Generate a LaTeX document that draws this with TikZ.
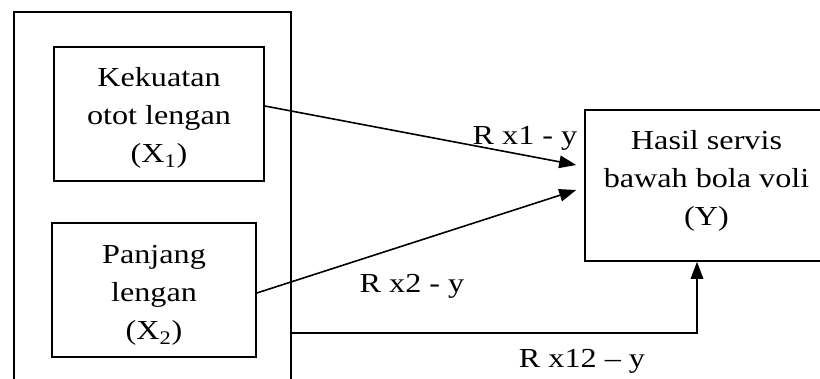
\documentclass[tikz,border=0pt]{standalone}
\usepackage{fontspec}
\setmainfont{Liberation Serif}
\usetikzlibrary{arrows.meta,calc}
\newcommand\sx[1]{\scalebox{1.17}[1]{#1}}
\begin{document}
\begin{tikzpicture}[x=1pt,y=-1pt,
  box/.style={draw,line width=1.6pt,inner sep=0pt},
  txt/.style={inner sep=0pt,anchor=base,font=\fontsize{27.5}{38}\selectfont},
  arr/.style={line width=1.6pt,-{Triangle[length=17pt,width=12.5pt]}}]
\useasboundingbox (0,0) rectangle (820,379);
% outer frame
\node[box,minimum width=277pt,minimum height=409pt,anchor=north west] (outer) at (13,11) {};
% boxes
\node[box,minimum width=210pt,minimum height=134pt] (x1) at (159,114) {};
\node[box,minimum width=204pt,minimum height=134pt] (x2) at (154,290) {};
\node[box,minimum width=243pt,minimum height=151pt] (yb) at (706.5,185.5) {};
% texts
\node[txt] (t1) at (159,87) {\begin{tabular}[t]{@{}c@{}}\sx{Kekuatan}\\\sx{otot lengan}\\\sx{(X\textsubscript{1})}\end{tabular}};
\node[txt] (t2) at (154,264) {\begin{tabular}[t]{@{}c@{}}\sx{Panjang}\\\sx{lengan}\\\sx{(X\textsubscript{2})}\end{tabular}};
\node[txt] (t3) at (706.5,150) {\begin{tabular}[t]{@{}c@{}}\sx{Hasil servis}\\\sx{bawah bola voli}\\\sx{(Y)}\end{tabular}};
% labels
\node[txt] (l1) at (525,145) {\sx{R x1 - y}};
\node[txt] (l2) at (412,293) {\sx{R x2 - y}};
\node[txt] (l3) at (582,368) {\sx{R x12 – y}};
% connectors
\coordinate (c12) at (0,333);
\draw[arr] ($(x1.east)+(0,-8)$) -- ($(yb.west)+(-8,-20.5)$);
\draw[arr] ($(x2.east)+(0,3)$) -- ($(yb.west)+(-8,4.5)$);
\draw[arr] (outer.east |- c12) -| ($(yb.south)+(-9.5,0)$);
\end{tikzpicture}
\end{document}
